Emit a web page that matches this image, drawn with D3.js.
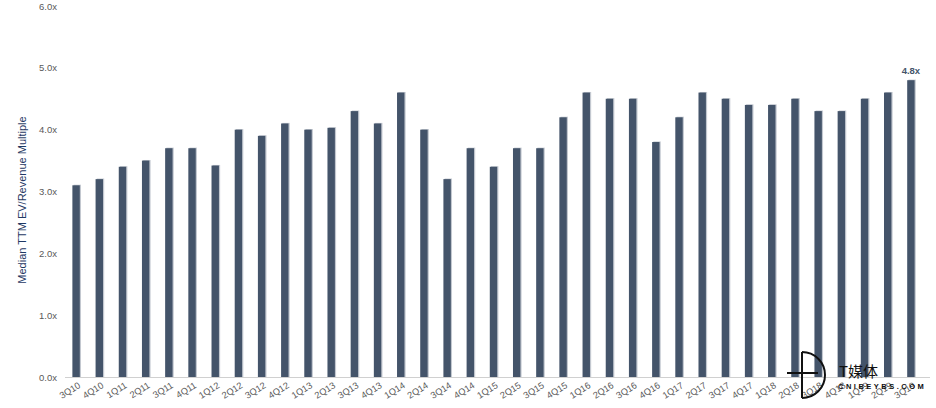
<!DOCTYPE html>
<html><head><meta charset="utf-8">
<script src="https://cdn.jsdelivr.net/npm/d3@7"></script>
<style>body{margin:0;background:#fff}svg{display:block}</style>
</head><body>
<svg id="c" width="936" height="408"></svg>
<script>
const categories = ["3Q10","4Q10","1Q11","2Q11","3Q11","4Q11","1Q12","2Q12","3Q12","4Q12","1Q13","2Q13","3Q13","4Q13","1Q14","2Q14","3Q14","4Q14","1Q15","2Q15","3Q15","4Q15","1Q16","2Q16","3Q16","4Q16","1Q17","2Q17","3Q17","4Q17","1Q18","2Q18","3Q18","4Q18","1Q19","2Q19","3Q19"];
const values = [3.1,3.2,3.4,3.5,3.7,3.7,3.42,4.0,3.9,4.1,4.0,4.03,4.3,4.1,4.6,4.0,3.2,3.7,3.4,3.7,3.7,4.2,4.6,4.5,4.5,3.8,4.2,4.6,4.5,4.4,4.4,4.5,4.3,4.3,4.5,4.6,4.8];
const yTicks = [0,1,2,3,4,5,6];
const yTitle = "Median TTM EV/Revenue Multiple";

const svg = d3.select("#c");
const x = d3.scaleBand().domain(categories).range([64.5, 922.5]).paddingInner(0.68).paddingOuter(0.34);
const y = d3.scaleLinear().domain([0,6]).range([377, 6]);
const font = "Liberation Sans, Arial, sans-serif";

// bars shadow
svg.append("g").selectAll("rect").data(values).join("rect")
  .attr("x", (d,i)=>x(categories[i])+1.2).attr("y", d=>y(d)-0.6)
  .attr("width", x.bandwidth()).attr("height", d=>y(0)-y(d)+0.6)
  .attr("fill", "#c3c8d0");
svg.append("g").selectAll("rect").data(values).join("rect")
  .attr("x", (d,i)=>x(categories[i])).attr("y", d=>y(d))
  .attr("width", x.bandwidth()).attr("height", d=>y(0)-y(d))
  .attr("fill", "#44546a");

// baseline
svg.append("line").attr("x1", 65).attr("x2", 930).attr("y1", y(0)+0.5).attr("y2", y(0)+0.5)
  .attr("stroke", "#d0d0d0").attr("stroke-width", 1);

// y axis
const yAxis = svg.append("g").attr("transform","translate(61,0)")
  .call(d3.axisLeft(y).tickValues(yTicks).tickSize(0).tickPadding(4).tickFormat(d=>d3.format(".1f")(d)+"x"));
yAxis.select(".domain").remove();
yAxis.selectAll("text").attr("font-family", font).attr("font-size", 9.5).attr("fill","#595959");

// x axis
const xAxis = svg.append("g").attr("transform", `translate(0,${y(0)})`)
  .call(d3.axisBottom(x).tickSize(0));
xAxis.select(".domain").remove();
xAxis.selectAll("text").attr("font-family", font).attr("font-size", 9.2).attr("fill","#595959")
  .attr("text-anchor","end").attr("dy",0).attr("y",0)
  .attr("transform","translate(5,10) rotate(-32)");

// y title
svg.append("text").attr("transform","translate(26,200) rotate(-90)")
  .attr("text-anchor","middle").attr("font-family", font).attr("font-size", 11)
  .attr("fill","#1f3864").text(yTitle);

// last value label
const li = values.length-1;
svg.append("text").attr("x", x(categories[li])+x.bandwidth()/2).attr("y", y(values[li])-6)
  .attr("text-anchor","middle").attr("font-family", font).attr("font-size", 9.5)
  .attr("font-weight","bold").attr("fill","#44546a").text(d3.format(".1f")(values[li])+"x");

// watermark
const wm = svg.append("g");
wm.append("path").attr("d","M802,352 A23,23 0 0 1 802,398")
  .attr("fill","none").attr("stroke","#111").attr("stroke-width",2);
wm.append("line").attr("x1",787).attr("x2",818).attr("y1",373).attr("y2",373).attr("stroke","#111").attr("stroke-width",2);
wm.append("line").attr("x1",802).attr("x2",802).attr("y1",352).attr("y2",398).attr("stroke","#111").attr("stroke-width",2);
wm.append("text").attr("x",839).attr("y",377).attr("font-family","Noto Sans CJK SC, sans-serif")
  .attr("font-size",15).attr("fill","#111").text("T媒体");
wm.append("text").attr("x",838).attr("y",389).attr("font-family",font)
  .attr("font-size",7.5).attr("font-weight","bold").attr("letter-spacing",2.5).attr("fill","#111").text("CNIBEYBS.COM");
</script>
</body></html>
